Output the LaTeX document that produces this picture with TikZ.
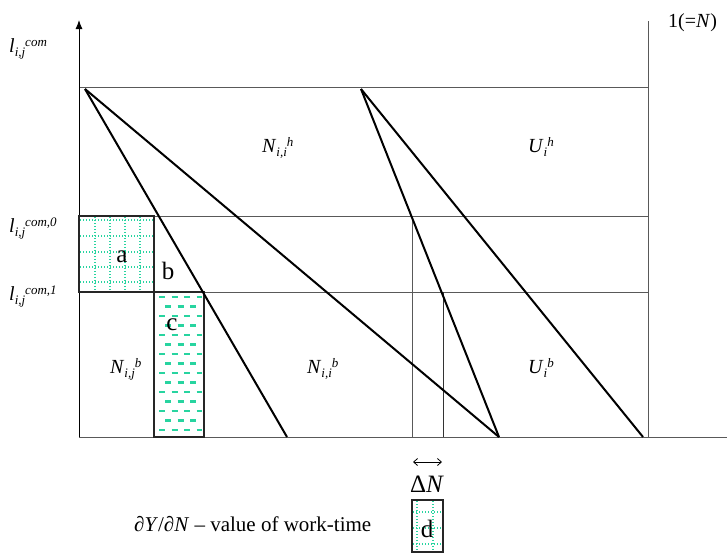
\documentclass[tikz,border=0pt]{standalone}
\usepackage{fontspec}
\setmainfont{Liberation Serif}
\usetikzlibrary{arrows.meta}
\definecolor{patgreen}{RGB}{40,212,160}
\newcommand\lbl[3]{\textit{#1}\raisebox{-0.2em}{\fontsize{13}{13}\selectfont\textit{#2}}\raisebox{0.3em}{\fontsize{13}{13}\selectfont\textit{#3}}}
\begin{document}
\begin{tikzpicture}[x=1pt,y=-1pt,
  axisline/.style={line width=1pt,black},
  thinline/.style={line width=0.9pt,black!65},
  guide/.style={line width=0.9pt,black!80},
  diag/.style={line width=2pt,black},
  boxline/.style={line width=1.5pt,black!85},
  gridpat/.style={patgreen,line width=1.4pt,dash pattern=on 1.4pt off 1.6pt},
  dashpat/.style={patgreen,line width=2.4pt,dash pattern=on 6pt off 6.5pt},
  lab/.style={inner sep=0pt,anchor=base west,font=\fontsize{20}{20}\selectfont},
  letter/.style={inner sep=0pt,anchor=base,font=\fontsize{25}{25}\selectfont}]
\useasboundingbox (0,0) rectangle (727,554);
% coordinates
\coordinate (O) at (79,437);
\coordinate (Ytop) at (79,20);
\coordinate (Xend) at (727,437);
\coordinate (Rtop) at (648,21);
\coordinate (Rbot) at (648,437);
\coordinate (H0l) at (79,87);   \coordinate (H0r) at (648,87);
\coordinate (H1l) at (79,216);  \coordinate (H1r) at (648,216);
\coordinate (H2l) at (79,292);  \coordinate (H2r) at (648,292);
\coordinate (P) at (85,89);
\coordinate (Q) at (361,89);
\coordinate (Pa) at (287,437);
\coordinate (Pb) at (499,437);
\coordinate (Qb) at (643,437);
\coordinate (V1t) at (412,216); \coordinate (V1b) at (412,437);
\coordinate (V2t) at (443,292); \coordinate (V2b) at (443,437);
% pattern boxes
\foreach \x in {95,110,125,140} \draw[gridpat] (\x,217) -- (\x,291);
\foreach \y in {220,236,252,267,282} \draw[gridpat] (80,\y) -- (153,\y);
\foreach \y [count=\i] in {297,306.5,316,325.5,335,344.5,354,363.5,373,382.5,392,401.5,411,420.5,430}{
  \pgfmathsetmacro{\xs}{mod(\i,2)==1 ? 159 : 165}
  \draw[dashpat] (\xs,\y) -- (202,\y);
}
\foreach \x in {417,433} \draw[gridpat] (\x,501) -- (\x,551);
\foreach \y in {512,528,544} \draw[gridpat] (413,\y) -- (442,\y);
% lines
\draw[thinline] (H0l) -- (H0r);
\draw[thinline] (H1l) -- (H1r);
\draw[thinline] (H2l) -- (H2r);
\draw[thinline] (O) -- (Xend);
\draw[thinline] (Rtop) -- (Rbot);
\draw[thinline] (V1t) -- (V1b);
\draw[guide] (V2t) -- (V2b);
\draw[axisline,-{Latex[length=9pt,width=7pt]}] (O) -- (Ytop);
\draw[boxline] (79,216) rectangle (154,292);
\draw[boxline] (154,292) rectangle (204,437);
\draw[boxline] (412,500) rectangle (443,552);
\draw[diag] (P) -- (Pa);
\draw[diag] (P) -- (Pb);
\draw[diag] (Q) -- (Pb);
\draw[diag] (Q) -- (Qb);
% labels
\node[lab] (lcom) at (9,52) {\lbl{l}{i,j}{com}};
\node[lab] (lcom0) at (9,232) {\lbl{l}{i,j}{com,0}};
\node[lab] (lcom1) at (9,300) {\lbl{l}{i,j}{com,1}};
\node[lab] (Nh) at (262,152) {\lbl{N}{i,i}{h}};
\node[lab] (Uh) at (528,152) {\lbl{U}{i}{h}};
\node[lab] (Njb) at (110,373) {\lbl{N}{i,j}{b}};
\node[lab] (Nib) at (307,373) {\lbl{N}{i,i}{b}};
\node[lab] (Ub) at (528,373) {\lbl{U}{i}{b}};
\node[lab] (one) at (668,27) {1(=\textit{N})};
\node[letter] (la) at (122,262) {a};
\node[letter] (lb) at (168,279) {b};
\node[letter] (lc) at (172,330) {c};
\node[letter] (ld) at (427,537) {d};
\coordinate (arL) at (413,462);
\coordinate (arR) at (442,462);
\draw[line width=0.8pt,{Straight Barb[length=4pt,width=7pt]}-{Straight Barb[length=4pt,width=7pt]}] (arL) -- (arR);
\node[letter] (dN) at (427,492) {Δ\textit{N}};
\node[inner sep=0pt,anchor=base west,font=\fontsize{21}{21}\selectfont] (val) at (134,531) {∂\textit{Y}/∂\textit{N} – value of work-time};
\end{tikzpicture}
\end{document}
